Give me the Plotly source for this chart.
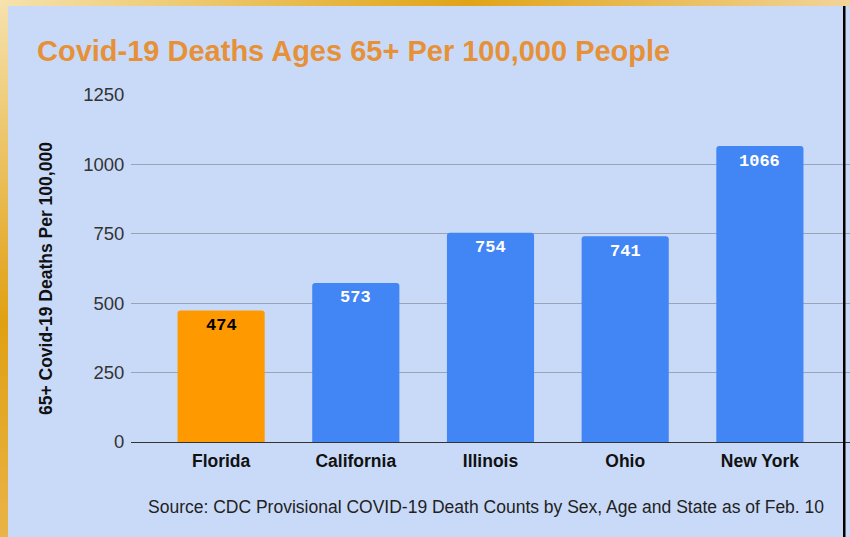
import base64
import plotly.graph_objects as go

states = ["Florida", "California", "Illinois", "Ohio", "New York"]
deaths = [474, 573, 754, 741, 1066]
bar_colors = ["#ff9900", "#4285f4", "#4285f4", "#4285f4", "#4285f4"]
label_colors = ["#000000", "#ffffff", "#ffffff", "#ffffff", "#ffffff"]
y_ticks = [0, 250, 500, 750, 1000, 1250]

W, H = 850, 537
L, R, T, B = 131, 0, 95, 95
PW, PH = W - L - R, H - T - B

svg = f'''<svg xmlns="http://www.w3.org/2000/svg" width="{W}" height="{H}" viewBox="0 0 {W} {H}" preserveAspectRatio="none">
<defs>
<linearGradient id="lg" x1="0" y1="0" x2="0" y2="1">
<stop offset="0" stop-color="#f6e2ae"/><stop offset="0.6" stop-color="#e0a012"/><stop offset="1" stop-color="#e9b448"/>
</linearGradient>
<linearGradient id="tg" x1="0" y1="0" x2="1" y2="0">
<stop offset="0" stop-color="#f6e2ae"/><stop offset="0.55" stop-color="#e0a416"/><stop offset="1" stop-color="#f2d49a"/>
</linearGradient>
</defs>
<rect x="0" y="0" width="8" height="{H}" fill="url(#lg)"/>
<rect x="0" y="0" width="{W}" height="6" fill="url(#tg)"/>
<rect x="843" y="6" width="2.5" height="{H}" fill="#000000"/>
</svg>'''
src = "data:image/svg+xml;base64," + base64.b64encode(svg.encode()).decode()

fig = go.Figure(go.Bar(
    x=states, y=deaths,
    marker=dict(color=bar_colors, line=dict(width=0), cornerradius=3),
    width=0.647,
    hoverinfo="skip",
))

def px_x(p):
    return (p - L) / PW

def px_y(p):
    return (H - B - p) / PH

annotations = [
    dict(text=str(v), x=s, y=v, xref="x", yref="y", yshift=-15,
         xanchor="center", yanchor="middle", showarrow=False,
         font=dict(family="Liberation Mono", size=17, color=c, weight="bold"))
    for s, v, c in zip(states, deaths, label_colors)
]
annotations += [
    dict(text="65+ Covid-19 Deaths Per 100,000", textangle=-90,
         xref="paper", yref="paper", x=px_x(46), y=px_y(279),
         xanchor="center", yanchor="middle", showarrow=False,
         font=dict(family="Liberation Sans", size=17.5, color="#111111", weight="bold")),
    dict(text="Source: CDC Provisional COVID-19 Death Counts by Sex, Age and State as of Feb. 10",
         xref="paper", yref="paper", x=px_x(486), y=px_y(507),
         xanchor="center", yanchor="middle", showarrow=False,
         font=dict(family="Liberation Sans", size=17.5, color="#222222")),
]

fig.update_layout(
    width=W, height=H,
    margin=dict(l=L, r=R, t=T, b=B, pad=0),
    paper_bgcolor="#c9daf8",
    plot_bgcolor="rgba(0,0,0,0)",
    showlegend=False,
    xaxis=dict(
        range=[-0.669, 4.669], showgrid=False, zeroline=False, showline=False,
        ticks="outside", ticklen=3, tickcolor="rgba(0,0,0,0)",
        tickfont=dict(family="Liberation Sans", size=17.5, color="#111111", weight="bold"),
    ),
    yaxis=dict(
        range=[0, 1250], tickvals=y_ticks, ticktext=[str(v) for v in y_ticks],
        showgrid=True, gridcolor="#9aa4b6", gridwidth=1,
        zeroline=True, zerolinecolor="#333333", zerolinewidth=1.3,
        showline=False, ticks="outside", ticklen=2, tickcolor="rgba(0,0,0,0)",
        tickfont=dict(family="Liberation Sans", size=18.5, color="#333333"),
    ),
    title=dict(
        text="Covid-19 Deaths Ages 65+ Per 100,000 People",
        font=dict(family="Liberation Sans", size=29, color="#e69138", weight="bold"),
        xref="container", x=37 / W, xanchor="left",
        yref="container", y=1 - 51 / H, yanchor="middle",
    ),
    annotations=annotations,
    images=[dict(source=src, xref="paper", yref="paper",
                 x=px_x(0), y=px_y(0), sizex=W / PW, sizey=H / PH,
                 xanchor="left", yanchor="top", sizing="stretch", layer="above")],
)

fig.write_html("out.html", config={"displayModeBar": False},
               post_script="document.body.style.margin='0';document.body.style.overflow='hidden';")
